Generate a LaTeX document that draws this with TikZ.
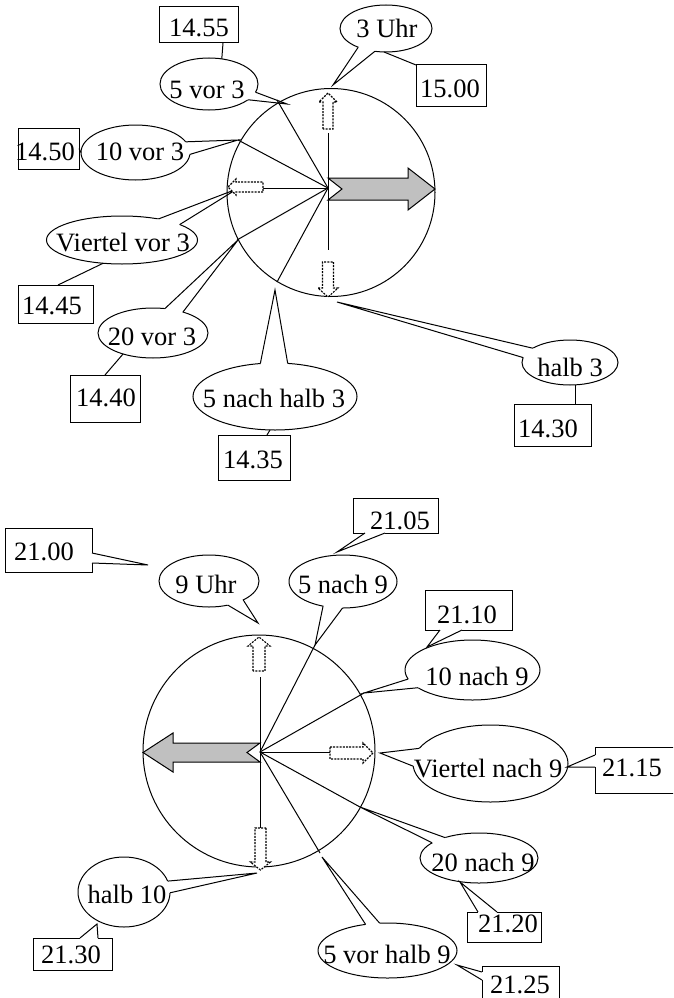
\documentclass[tikz,border=0pt]{standalone}
\usepackage{fontspec}
\setmainfont{Liberation Serif}
\usetikzlibrary{calc,shapes.geometric}
\definecolor{arrgray}{RGB}{192,192,192}
\newcommand{\etail}[4]{%
  \fill[white] ($(#1.center)!0.86!(#1.#2)$) -- (#1.#2) -- (#4) -- (#1.#3) -- ($(#1.center)!0.86!(#1.#3)$) -- cycle;
  \draw (#1.#2) -- (#4) -- (#1.#3);}
\newcommand{\btail}[3]{%
  \fill[white] (#1) -- (#3) -- (#2) -- cycle;
  \draw[white, line width=1.8pt] (#1) -- (#2);
  \draw (#1) -- (#3) -- (#2);}
\newcommand{\blockarr}[7]{%
  \begin{scope}[shift={(#1,#2)}, rotate=#3]
    \draw[dotarr] (0,-#5) -- ({#4-#7},-#5) -- ({#4-#7},-#6) -- (#4,0) -- ({#4-#7},#6) -- ({#4-#7},#5) -- (0,#5) -- cycle;
  \end{scope}}
\tikzset{
  ell/.style={ellipse, draw, fill=white, inner sep=0pt, outer sep=0pt},
  bx/.style={rectangle, draw, fill=white, inner sep=0pt, outer sep=0pt},
  txt/.style={inner sep=0pt, font=\fontsize{26.5}{30}\selectfont},
  dotarr/.style={fill=white, line width=1.1pt, dash pattern=on 2pt off 1.2pt},
  clockc/.style={circle, draw, inner sep=0pt, outer sep=0pt},
  bigarr/.style={fill=arrgray, draw=black}
}
\begin{document}
\begin{tikzpicture}[x=1pt,y=-1pt,line width=1pt]
\useasboundingbox (0,0) rectangle (673,998);
\clip (0,0) rectangle (673,998);

% ---------- upper clock: callouts ----------
\node[bx, minimum width=79pt, minimum height=36pt] (b1455) at (198.5,25) {};
\node[ell, minimum width=98pt, minimum height=52pt] (e5vor3) at (209,84) {};
\draw ([xshift=24.5pt]b1455.south) -- (e5vor3.63);
\etail{e5vor3}{-10}{-22}{287,104}

\node[bx, minimum width=61pt, minimum height=41pt] (b1450) at (48.5,148.5) {};
\node[ell, minimum width=109pt, minimum height=55pt] (e10vor3) at (135.5,152.5) {};
\draw (b1450.east) -- (e10vor3.west);
\etail{e10vor3}{12}{-2}{238,140}

\node[ell, minimum width=151pt, minimum height=48pt] (eViertelvor3) at (122,240) {};
\node[bx, minimum width=75pt, minimum height=38pt] (b1445) at (55.5,304) {};
\draw (eViertelvor3.-129) -- ([xshift=2.5pt]b1445.north);
\etail{eViertelvor3}{30}{15}{237,189}

\node[ell, minimum width=110pt, minimum height=50pt] (e20vor3) at (153,333) {};
\node[bx, minimum width=70pt, minimum height=47pt] (b1440) at (105,398.5) {};
\draw (e20vor3.-145) -- (b1440.north);
\etail{e20vor3}{64}{35}{238,240}

\node[ell, minimum width=164pt, minimum height=67pt] (e5nachhalb3) at (275,396.5) {};
\node[bx, minimum width=72pt, minimum height=45pt] (b1435) at (254,457.5) {};
\draw ([xshift=-5pt]e5nachhalb3.south) -- ([xshift=13pt]b1435.north);
\etail{e5nachhalb3}{114}{69}{275,290}

\node[ell, minimum width=92pt, minimum height=47pt] (e3Uhr) at (386,28.5) {};
\node[bx, minimum width=70pt, minimum height=41pt] (b1500) at (451,85.5) {};
\draw (e3Uhr.-95) -- (b1500.north west);
\etail{e3Uhr}{-146}{-116}{333,85}

\node[ell, minimum width=96pt, minimum height=45pt] (ehalb3) at (570,362.5) {};
\node[bx, minimum width=77pt, minimum height=42pt] (b1430) at (552.5,425) {};
\draw ([xshift=5pt]ehalb3.south) -- ([xshift=22.5pt]b1430.north);
\etail{ehalb3}{159}{174}{337,302}

% ---------- lower clock: callouts ----------
\node[bx, minimum width=87pt, minimum height=44pt] (b2100) at (48.5,550) {};
\btail{[yshift=-3pt]b2100.east}{[yshift=-13pt]b2100.east}{148,565}

\node[ell, minimum width=100pt, minimum height=52pt] (e9Uhr) at (209,581) {};
\etail{e9Uhr}{-52}{-29}{258,623}

\node[bx, minimum width=85pt, minimum height=35pt] (b2105) at (395.5,515.5) {};
\btail{[xshift=-30.5pt]b2105.south}{[xshift=-10.5pt]b2105.south}{337,552}
\node[ell, minimum width=108pt, minimum height=53pt] (e5nach9) at (343,581.5) {};
\etail{e5nach9}{-129}{-91}{315,645}

\node[bx, minimum width=87pt, minimum height=40pt] (b2110) at (468.5,610) {};
\btail{[xshift=-28.5pt]b2110.south}{[xshift=-6.5pt]b2110.south}{427,647}
\node[ell, minimum width=135pt, minimum height=60pt] (e10nach9) at (472.5,670) {};
\etail{e10nach9}{-172}{-162}{364,693}

\node[ell, minimum width=155pt, minimum height=77pt] (eViertelnach9) at (490.5,763.5) {};
\etail{eViertelnach9}{168}{-178}{380,753}
\node[bx, minimum width=105pt, minimum height=46pt] (b2115) at (647.5,770) {};
\btail{[yshift=15pt]b2115.west}{[yshift=3pt]b2115.west}{567,767}

\node[ell, minimum width=118pt, minimum height=50pt] (e20nach9) at (479,858) {};
\etail{e20nach9}{149}{162}{360,807}
\node[bx, minimum width=74pt, minimum height=30pt] (b2120) at (504,927) {};
\btail{[xshift=-26pt]b2120.north}{[xshift=-7pt]b2120.north}{460,882}

\node[ell, minimum width=139pt, minimum height=55pt] (e5vorhalb9) at (387.5,950.5) {};
\etail{e5vorhalb9}{130}{106}{322,857}
\node[bx, minimum width=77pt, minimum height=44pt] (b2125) at (520.5,988) {};
\btail{[yshift=16pt]b2125.west}{[yshift=8pt]b2125.west}{457,965}

\node[bx, minimum width=79pt, minimum height=32pt] (b2130) at (72.5,954) {};
\btail{[xshift=7.5pt]b2130.north}{[xshift=25.5pt]b2130.north}{97,924}
\node[ell, minimum width=92pt, minimum height=70pt] (ehalb10) at (124,892) {};
\etail{ehalb10}{14}{-1}{257,873}

% ---------- upper clock ----------
\node[clockc, minimum size=208pt] (c1) at (331,192.5) {};
\coordinate (H1) at (328,188);
\coordinate (h1a) at (277,100);
\coordinate (h1b) at (238,140);
\coordinate (h1c) at (237,240);
\coordinate (h1d) at (277,282);
\coordinate (h1up) at (328,133);
\coordinate (h1dn) at (328,250);
\coordinate (h1lf) at (263,188);
\foreach \e in {h1a,h1b,h1c,h1d,h1up,h1dn,h1lf} \draw (H1) -- (\e);
\draw[bigarr] (328,178) -- (408,178) -- (408,168) -- (435,189) -- (408,210) -- (408,200) -- (328,200) -- (342,189) -- cycle;
\blockarr{328}{129}{90}{36}{5}{9}{9}
\blockarr{328}{262}{-90}{35}{5.5}{10}{9}
\blockarr{263}{187}{180}{35}{5}{8}{8}

% ---------- lower clock ----------
\node[clockc, minimum size=232pt] (c2) at (259,751) {};
\coordinate (H2) at (260,752);
\coordinate (h2a) at (315,645);
\coordinate (h2b) at (364,693);
\coordinate (h2c) at (360,807);
\coordinate (h2d) at (320,853);
\coordinate (h2up) at (260,677);
\coordinate (h2dn) at (260,828);
\coordinate (h2rt) at (330,752);
\foreach \e in {h2a,h2b,h2c,h2d,h2up,h2dn,h2rt} \draw (H2) -- (\e);
\draw[bigarr] (260,743) -- (173,743) -- (173,733) -- (143,752.5) -- (173,772) -- (173,762) -- (260,762) -- (247,752.5) -- cycle;
\blockarr{259}{671}{90}{34}{6}{11}{9}
\blockarr{260.5}{828}{-90}{42}{5.5}{10}{8}
\blockarr{330}{753}{0}{43}{6}{10}{10}

% ---------- texts ----------
\node[txt] (t1455) at (199,27.5) {14.55};
\node[txt] (t5vor3) at (207,90) {5 vor 3};
\node[txt] (t1450) at (45,152) {14.50};
\node[txt] (t10vor3) at (140,152) {10 vor 3};
\node[txt] (tViertelvor3) at (123,243) {Viertel vor 3};
\node[txt] (t1445) at (52,306) {14.45};
\node[txt] (t20vor3) at (152,337) {20 vor 3};
\node[txt] (t1440) at (106,398) {14.40};
\node[txt] (t5nachhalb3) at (274,398) {5 nach halb 3};
\node[txt] (t1435) at (253,460) {14.35};
\node[txt] (t3Uhr) at (387,28) {3 Uhr};
\node[txt] (t1500) at (450,89) {15.00};
\node[txt] (thalb3) at (570,367) {halb 3};
\node[txt] (t1430) at (548,429) {14.30};
\node[txt] (t2100) at (44,552) {21.00};
\node[txt] (t9Uhr) at (206,584) {9 Uhr};
\node[txt] (t5nach9) at (343,584) {5 nach 9};
\node[txt] (t2105) at (400,521) {21.05};
\node[txt] (t2110) at (467,615) {21.10};
\node[txt] (t10nach9) at (477,676) {10 nach 9};
\node[txt] (tViertelnach9) at (488,768) {Viertel nach 9};
\node[txt] (t2115) at (632,768) {21.15};
\node[txt] (t20nach9) at (483,862) {20 nach 9};
\node[txt] (t2120) at (508,924) {21.20};
\node[txt] (t5vorhalb9) at (387,954) {5 vor halb 9};
\node[txt] (t2125) at (520,984.5) {21.25};
\node[txt] (thalb10) at (127,894) {halb 10};
\node[txt] (t2130) at (71,955) {21.30};
\end{tikzpicture}
\end{document}
